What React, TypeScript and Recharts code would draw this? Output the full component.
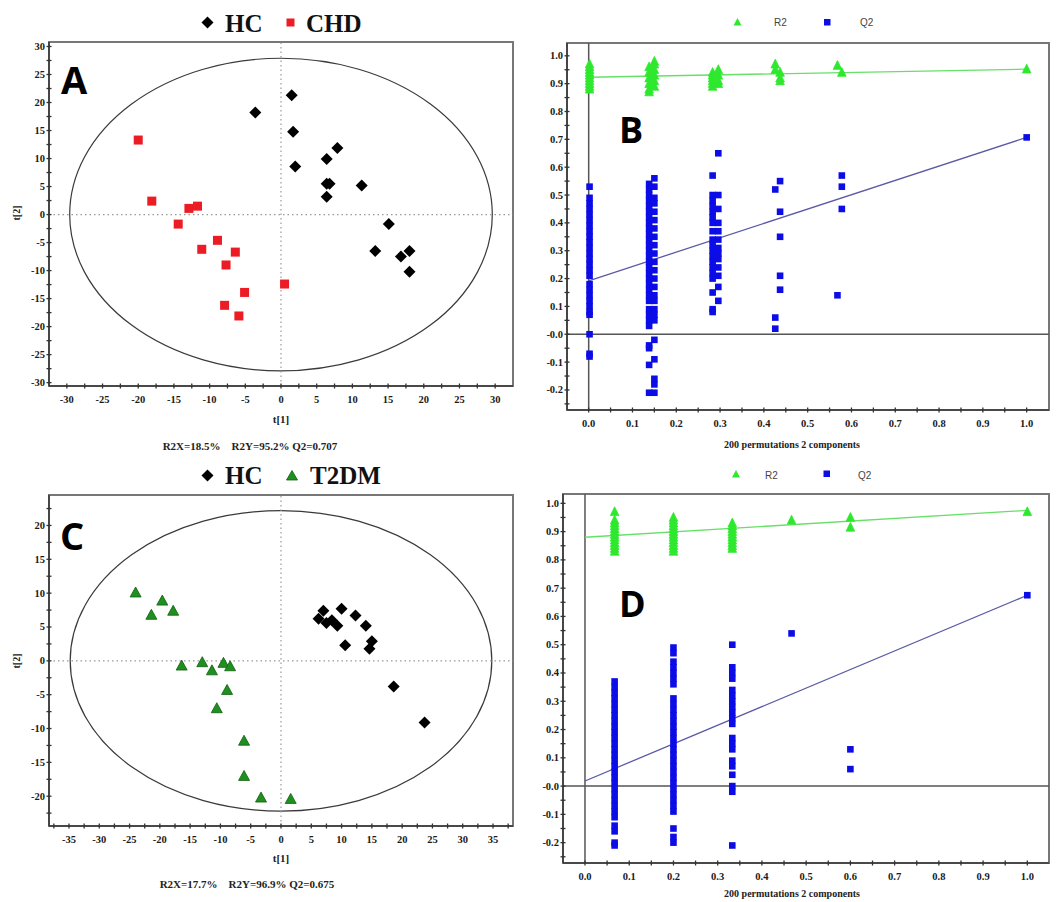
import React from 'react';
import { ScatterChart, Scatter, XAxis, YAxis, ReferenceLine, ReferenceArea } from 'recharts';

// ---------- Panel A: OPLS-DA scores, HC vs CHD ----------
const hcScoresA = [
  { x: -3.6, y: 18.2 }, { x: 1.5, y: 21.3 }, { x: 1.7, y: 14.8 }, { x: 2.0, y: 8.6 },
  { x: 6.4, y: 9.9 }, { x: 7.9, y: 11.9 }, { x: 6.4, y: 5.5 }, { x: 6.8, y: 5.5 },
  { x: 6.4, y: 3.2 }, { x: 11.3, y: 5.2 }, { x: 15.1, y: -1.7 }, { x: 13.2, y: -6.5 },
  { x: 16.8, y: -7.5 }, { x: 18.0, y: -6.5 }, { x: 18.0, y: -10.2 },
];
const chdScoresA = [
  { x: -20.0, y: 13.3 }, { x: -18.1, y: 2.4 }, { x: -12.9, y: 1.1 }, { x: -11.7, y: 1.5 },
  { x: -14.4, y: -1.7 }, { x: -8.9, y: -4.6 }, { x: -11.1, y: -6.2 }, { x: -6.4, y: -6.7 },
  { x: -7.7, y: -9.0 }, { x: 0.5, y: -12.4 }, { x: -5.1, y: -13.9 }, { x: -7.9, y: -16.2 },
  { x: -5.9, y: -18.1 },
];
const ellipseA = { rx: 29.6, ry: 27.9 };
const xMajorA = [-30, -25, -20, -15, -10, -5, 0, 5, 10, 15, 20, 25, 30];
const xMinorA = [-27.5, -22.5, -17.5, -12.5, -7.5, -2.5, 2.5, 7.5, 12.5, 17.5, 22.5, 27.5];
const yMajorA = [-30, -25, -20, -15, -10, -5, 0, 5, 10, 15, 20, 25, 30];
const yMinorA = [-27.5, -22.5, -17.5, -12.5, -7.5, -2.5, 2.5, 7.5, 12.5, 17.5, 22.5, 27.5];

// ---------- Panel C: OPLS-DA scores, HC vs T2DM ----------
const hcScoresC = [
  { x: 7.0, y: 7.4 }, { x: 10.0, y: 7.7 }, { x: 12.3, y: 6.7 }, { x: 6.2, y: 6.2 },
  { x: 7.5, y: 5.6 }, { x: 8.4, y: 6.0 }, { x: 9.3, y: 5.2 }, { x: 14.0, y: 5.2 },
  { x: 10.6, y: 2.3 }, { x: 15.0, y: 2.9 }, { x: 14.6, y: 1.8 }, { x: 18.6, y: -3.8 },
  { x: 23.7, y: -9.1 },
];
const t2dmScoresC = [
  { x: -24.0, y: 10.1 }, { x: -19.6, y: 8.9 }, { x: -21.4, y: 6.8 }, { x: -17.8, y: 7.4 },
  { x: -16.4, y: -0.7 }, { x: -13.0, y: -0.2 }, { x: -11.4, y: -1.4 }, { x: -9.5, y: -0.3 },
  { x: -8.4, y: -0.8 }, { x: -8.9, y: -4.3 }, { x: -10.6, y: -7.0 }, { x: -6.1, y: -11.8 },
  { x: -6.1, y: -17.0 }, { x: -3.3, y: -20.2 }, { x: 1.6, y: -20.4 },
];
const ellipseC = { rx: 34.8, ry: 22.2 };
const xMajorC = [-35, -30, -25, -20, -15, -10, -5, 0, 5, 10, 15, 20, 25, 30, 35];
const xMinorC = [-37.5, -32.5, -27.5, -22.5, -17.5, -12.5, -7.5, -2.5, 2.5, 7.5, 12.5, 17.5, 22.5, 27.5, 32.5, 37.5];
const yMajorC = [-20, -15, -10, -5, 0, 5, 10, 15, 20];
const yMinorC = [-22.5, -17.5, -12.5, -7.5, -2.5, 2.5, 7.5, 12.5, 17.5, 22.5];

// ---------- Panel B: permutation test (200 permutations), HC vs CHD ----------
const permR2B = [
  { x: 0.002, ys: [0.97, 0.96, 0.95, 0.94, 0.93, 0.92, 0.91, 0.9, 0.89, 0.88] },
  { x: 0.138, ys: [0.96, 0.94, 0.92, 0.9, 0.88, 0.87] },
  { x: 0.15, ys: [0.98, 0.97, 0.95, 0.93, 0.91, 0.89] },
  { x: 0.283, ys: [0.94, 0.93, 0.92, 0.91, 0.9, 0.89] },
  { x: 0.296, ys: [0.95, 0.93, 0.91, 0.9] },
  { x: 0.426, ys: [0.97, 0.95] },
  { x: 0.437, ys: [0.94, 0.92, 0.91] },
  { x: 0.568, ys: [0.965] },
  { x: 0.578, ys: [0.94] },
  { x: 1.0, ys: [0.952] },
];
const permQ2B = [
  { x: 0.002, ys: [0.53, 0.49, 0.47, 0.45, 0.43, 0.41, 0.39, 0.37, 0.35, 0.33, 0.31, 0.29, 0.27, 0.25, 0.23, 0.21, 0.18, 0.16, 0.14, 0.12, 0.1, 0.08, 0.07, 0.0, -0.07, -0.08] },
  { x: 0.138, ys: [0.54, 0.52, 0.5, 0.48, 0.46, 0.44, 0.42, 0.4, 0.38, 0.36, 0.34, 0.32, 0.3, 0.28, 0.26, 0.24, 0.22, 0.2, 0.18, 0.16, 0.14, 0.12, 0.09, 0.07, 0.05, 0.03, -0.04, -0.05, -0.11, -0.21] },
  { x: 0.15, ys: [0.56, 0.53, 0.49, 0.47, 0.44, 0.41, 0.38, 0.35, 0.32, 0.29, 0.26, 0.23, 0.2, 0.17, 0.14, 0.12, 0.09, 0.07, 0.05, -0.02, -0.09, -0.16, -0.18, -0.21] },
  { x: 0.283, ys: [0.57, 0.5, 0.48, 0.46, 0.44, 0.42, 0.4, 0.37, 0.34, 0.32, 0.3, 0.28, 0.26, 0.24, 0.22, 0.2, 0.15, 0.09, 0.08] },
  { x: 0.296, ys: [0.65, 0.5, 0.45, 0.4, 0.37, 0.34, 0.31, 0.29, 0.27, 0.24, 0.21, 0.17, 0.12] },
  { x: 0.426, ys: [0.52, 0.06, 0.02] },
  { x: 0.437, ys: [0.55, 0.44, 0.35, 0.21, 0.16] },
  { x: 0.568, ys: [0.14] },
  { x: 0.578, ys: [0.57, 0.53, 0.45] },
  { x: 1.0, ys: [0.707] },
];
const r2FitB = [{ x: 0, y: 0.923 }, { x: 1, y: 0.952 }];
const q2FitB = [{ x: 0, y: 0.192 }, { x: 1, y: 0.707 }];

// ---------- Panel D: permutation test (200 permutations), HC vs T2DM ----------
const permR2D = [
  { x: 0.067, ys: [0.97, 0.94, 0.93, 0.92, 0.91, 0.9, 0.89, 0.88, 0.87, 0.86, 0.85, 0.84, 0.83] },
  { x: 0.2, ys: [0.95, 0.94, 0.93, 0.92, 0.91, 0.9, 0.89, 0.88, 0.87, 0.86, 0.85, 0.84, 0.83] },
  { x: 0.333, ys: [0.93, 0.92, 0.91, 0.9, 0.89, 0.88, 0.87, 0.86, 0.85, 0.84] },
  { x: 0.467, ys: [0.94] },
  { x: 0.6, ys: [0.95, 0.915] },
  { x: 1.0, ys: [0.97] },
];
const permQ2D = [
  { x: 0.067, ys: [0.37, 0.35, 0.33, 0.31, 0.29, 0.27, 0.25, 0.23, 0.21, 0.19, 0.17, 0.15, 0.13, 0.11, 0.09, 0.07, 0.05, 0.03, 0.01, -0.01, -0.03, -0.05, -0.07, -0.09, -0.11, -0.14, -0.16, -0.2, -0.21] },
  { x: 0.2, ys: [0.49, 0.47, 0.44, 0.42, 0.4, 0.38, 0.36, 0.31, 0.29, 0.27, 0.25, 0.23, 0.21, 0.19, 0.17, 0.15, 0.13, 0.11, 0.09, 0.07, 0.05, 0.03, 0.01, -0.01, -0.03, -0.05, -0.07, -0.09, -0.15, -0.18, -0.2] },
  { x: 0.333, ys: [0.5, 0.42, 0.4, 0.38, 0.34, 0.32, 0.3, 0.28, 0.26, 0.24, 0.22, 0.17, 0.15, 0.13, 0.09, 0.07, 0.04, 0.0, -0.02, -0.21] },
  { x: 0.467, ys: [0.54] },
  { x: 0.6, ys: [0.13, 0.06] },
  { x: 1.0, ys: [0.675] },
];
const r2FitD = [{ x: 0, y: 0.88 }, { x: 1, y: 0.975 }];
const q2FitD = [{ x: 0, y: 0.018 }, { x: 1, y: 0.675 }];

// shared permutation-plot ticks
const permXMajor = [0, 0.1, 0.2, 0.3, 0.4, 0.5, 0.6, 0.7, 0.8, 0.9, 1.0];
const permXMinor = [0.05, 0.15, 0.25, 0.35, 0.45, 0.55, 0.65, 0.75, 0.85, 0.95];
const permYMajor = [-0.2, -0.1, 0, 0.1, 0.2, 0.3, 0.4, 0.5, 0.6, 0.7, 0.8, 0.9, 1.0];
const permYMinor = [-0.25, -0.15, -0.05, 0.05, 0.15, 0.25, 0.35, 0.45, 0.55, 0.65, 0.75, 0.85, 0.95];

type Group = { x: number; ys: number[] };
const toPoints = (groups: Group[]) => groups.flatMap((g) => g.ys.map((y) => ({ x: g.x, y })));

const serif = "'Liberation Serif','Times New Roman',serif";
const sans = "'Liberation Sans',Arial,sans-serif";
const tickText: React.CSSProperties = { fontFamily: serif, fontWeight: 700, fontSize: 10.5, fill: '#1a1a1a' };
const axisStyle = { stroke: '#3a3a3a', strokeWidth: 1.6 };

const sorted = (a: number[], b: number[]) => [...a, ...b].sort((p, q) => p - q);
const intLabel = (v: number) => String(v);
const decLabel = (v: number) => v.toFixed(1);
const permYLabel = (v: number) => (v === 0 ? '-0.0' : v.toFixed(1));

const makeXTick = (majors: number[], fmt: (v: number) => string) => (p: any) => {
  const { x, y, payload } = p;
  const v = payload.value;
  const major = majors.includes(v);
  return (
    <g>
      <line x1={x} x2={x} y1={y - 2.5} y2={y + 2.5} stroke="#333" strokeWidth={1.3} />
      {major && (
        <text x={x} y={y + 17} textAnchor="middle" style={tickText}>
          {fmt(v)}
        </text>
      )}
    </g>
  );
};

const makeYTick = (majors: number[], fmt: (v: number) => string) => (p: any) => {
  const { x, y, payload } = p;
  const v = payload.value;
  const major = majors.includes(v);
  return (
    <g>
      <line x1={x - 2.5} x2={x + 2.5} y1={y} y2={y} stroke="#333" strokeWidth={1.3} />
      {major && (
        <text x={x - 4} y={y + 3.5} textAnchor="end" style={tickText}>
          {fmt(v)}
        </text>
      )}
    </g>
  );
};

// marker shapes
const diamond = (h: number, color: string) => (p: any) => (
  <polygon
    points={`${p.cx},${p.cy - h} ${p.cx + h},${p.cy} ${p.cx},${p.cy + h} ${p.cx - h},${p.cy}`}
    fill={color}
  />
);
const square = (h: number, color: string) => (p: any) => (
  <rect x={p.cx - h} y={p.cy - h} width={2 * h} height={2 * h} fill={color} />
);
const triangle = (w: number, up: number, down: number, color: string, edge: string) => (p: any) => (
  <polygon
    points={`${p.cx},${p.cy - up} ${p.cx + w},${p.cy + down} ${p.cx - w},${p.cy + down}`}
    fill={color}
    stroke={edge}
    strokeWidth={0.8}
  />
);

const ellipseShape = (p: any) => (
  <ellipse
    cx={p.x + p.width / 2}
    cy={p.y + p.height / 2}
    rx={Math.abs(p.width) / 2}
    ry={Math.abs(p.height) / 2}
    fill="none"
    stroke="#3a3a3a"
    strokeWidth={1.2}
  />
);

type Box = { left: number; top: number; width: number; height: number };
type Margin = { top: number; right: number; bottom: number; left: number };

function ScorePanel(props: {
  box: Box;
  margin: Margin;
  xDomain: [number, number];
  yDomain: [number, number];
  xMajor: number[];
  xMinor: number[];
  yMajor: number[];
  yMinor: number[];
  ellipse: { rx: number; ry: number };
  series: { name: string; data: { x: number; y: number }[]; shape: (p: any) => React.ReactElement }[];
}) {
  const { box, margin, xDomain, yDomain, xMajor, xMinor, yMajor, yMinor, ellipse, series } = props;
  return (
    <div style={{ position: 'absolute', left: box.left, top: box.top }}>
      <ScatterChart width={box.width} height={box.height} margin={margin}>
        <XAxis
          type="number"
          dataKey="x"
          domain={xDomain}
          allowDataOverflow
          ticks={sorted(xMajor, xMinor)}
          interval={0}
          tickSize={0}
          tickMargin={0}
          tickLine={false}
          tick={makeXTick(xMajor, intLabel)}
          axisLine={axisStyle}
          height={30}
        />
        <YAxis
          type="number"
          dataKey="y"
          domain={yDomain}
          allowDataOverflow
          ticks={sorted(yMajor, yMinor)}
          interval={0}
          tickSize={0}
          tickMargin={0}
          tickLine={false}
          tick={makeYTick(yMajor, intLabel)}
          axisLine={axisStyle}
          width={40}
        />
        <ReferenceArea
          x1={xDomain[0]}
          x2={xDomain[1]}
          y1={yDomain[0]}
          y2={yDomain[1]}
          fill="none"
          fillOpacity={0}
          stroke="#777"
          strokeWidth={2}
          ifOverflow="visible"
        />
        <ReferenceLine x={0} stroke="#999" strokeWidth={1.2} strokeDasharray="1.5 3" />
        <ReferenceLine y={0} stroke="#999" strokeWidth={1.2} strokeDasharray="1.5 3" />
        <ReferenceArea
          x1={-ellipse.rx}
          x2={ellipse.rx}
          y1={-ellipse.ry}
          y2={ellipse.ry}
          shape={ellipseShape}
          ifOverflow="visible"
        />
        {series.map((s) => (
          <Scatter key={s.name} name={s.name} data={s.data} shape={s.shape} isAnimationActive={false} />
        ))}
      </ScatterChart>
    </div>
  );
}

function PermPanel(props: {
  box: Box;
  margin: Margin;
  xDomain: [number, number];
  yDomain: [number, number];
  r2: Group[];
  q2: Group[];
  r2Fit: { x: number; y: number }[];
  q2Fit: { x: number; y: number }[];
}) {
  const { box, margin, xDomain, yDomain, r2, q2, r2Fit, q2Fit } = props;
  return (
    <div style={{ position: 'absolute', left: box.left, top: box.top }}>
      <ScatterChart width={box.width} height={box.height} margin={margin}>
        <XAxis
          type="number"
          dataKey="x"
          domain={xDomain}
          allowDataOverflow
          ticks={sorted(permXMajor, permXMinor)}
          interval={0}
          tickSize={0}
          tickMargin={0}
          tickLine={false}
          tick={makeXTick(permXMajor, decLabel)}
          axisLine={axisStyle}
          height={30}
        />
        <YAxis
          type="number"
          dataKey="y"
          domain={yDomain}
          allowDataOverflow
          ticks={sorted(permYMajor, permYMinor.filter((v) => v > yDomain[0]))}
          interval={0}
          tickSize={0}
          tickMargin={0}
          tickLine={false}
          tick={makeYTick(permYMajor, permYLabel)}
          axisLine={axisStyle}
          width={30}
        />
        <ReferenceArea
          x1={xDomain[0]}
          x2={xDomain[1]}
          y1={yDomain[0]}
          y2={yDomain[1]}
          fill="none"
          fillOpacity={0}
          stroke="#777"
          strokeWidth={2}
          ifOverflow="visible"
        />
        <ReferenceLine x={0} stroke="#555" strokeWidth={1.5} />
        <ReferenceLine y={0} stroke="#555" strokeWidth={1.5} />
        <Scatter name="R2" data={toPoints(r2)} shape={triangle(4.3, 5, 3.8, '#2ee82e', '#2ee82e')} isAnimationActive={false} />
        <Scatter name="Q2" data={toPoints(q2)} shape={square(3.3, '#0c0ce6')} isAnimationActive={false} />
        <ReferenceLine segment={r2Fit} stroke="#66e066" strokeWidth={1.3} />
        <ReferenceLine segment={q2Fit} stroke="#5a5aa6" strokeWidth={1.3} />
      </ScatterChart>
    </div>
  );
}

const legendBig: React.CSSProperties = { fontFamily: serif, fontWeight: 700, fontSize: 25, fill: '#111' };
const legendSmall: React.CSSProperties = { fontFamily: sans, fontSize: 10, fill: '#444' };
const panelLetter: React.CSSProperties = { fontFamily: "'Open Sans','Liberation Sans',sans-serif", fontWeight: 700, fill: '#000' };
const axisTitle: React.CSSProperties = { fontFamily: serif, fontWeight: 700, fontSize: 11, fill: '#222', whiteSpace: 'pre' };
const permTitle: React.CSSProperties = { fontFamily: serif, fontWeight: 700, fontSize: 10, fill: '#222' };

export default function App() {
  return (
    <div style={{ position: 'absolute', left: 0, top: 0, width: 1061, height: 902, background: '#fff', overflow: 'hidden' }}>
      <ScorePanel
        box={{ left: 0, top: 0, width: 530, height: 460 }}
        margin={{ top: 42, right: 17, bottom: 44, left: 9 }}
        xDomain={[-32.5, 32.5]}
        yDomain={[-30.6, 30.8]}
        xMajor={xMajorA}
        xMinor={xMinorA}
        yMajor={yMajorA}
        yMinor={yMinorA}
        ellipse={ellipseA}
        series={[
          { name: 'HC', data: hcScoresA, shape: diamond(6, '#000') },
          { name: 'CHD', data: chdScoresA, shape: square(4.5, '#ec1c24') },
        ]}
      />
      <PermPanel
        box={{ left: 530, top: 0, width: 531, height: 460 }}
        margin={{ top: 43, right: 12, bottom: 20, left: 7 }}
        xDomain={[-0.0495, 1.051]}
        yDomain={[-0.272, 1.046]}
        r2={permR2B}
        q2={permQ2B}
        r2Fit={r2FitB}
        q2Fit={q2FitB}
      />
      <ScorePanel
        box={{ left: 0, top: 460, width: 530, height: 442 }}
        margin={{ top: 35, right: 17, bottom: 46, left: 9 }}
        xDomain={[-38.3, 38.3]}
        yDomain={[-24.4, 24.5]}
        xMajor={xMajorC}
        xMinor={xMinorC}
        yMajor={yMajorC}
        yMinor={yMinorC}
        ellipse={ellipseC}
        series={[
          { name: 'HC', data: hcScoresC, shape: diamond(6, '#000') },
          { name: 'T2DM', data: t2dmScoresC, shape: triangle(5.5, 5.5, 4.5, '#1f8f1f', '#0f5f0f') },
        ]}
      />
      <PermPanel
        box={{ left: 530, top: 460, width: 531, height: 442 }}
        margin={{ top: 34, right: 12, bottom: 9, left: 3 }}
        xDomain={[-0.0497, 1.049]}
        yDomain={[-0.272, 1.033]}
        r2={permR2D}
        q2={permQ2D}
        r2Fit={r2FitD}
        q2Fit={q2FitD}
      />

      {/* legends, panel letters and axis titles */}
      <svg width={1061} height={902} style={{ position: 'absolute', left: 0, top: 0, pointerEvents: 'none' }}>
        {/* A */}
        <polygon points="207.5,16.5 213.5,22.5 207.5,28.5 201.5,22.5" fill="#000" />
        <text x={225} y={31.5} style={legendBig}>HC</text>
        <rect x={286.5} y={18.5} width={8} height={8} fill="#ec1c24" />
        <text x={306} y={31.5} style={legendBig}>CHD</text>
        <text x={61} y={94} style={{ ...panelLetter, fontSize: 38 }}>A</text>
        <text transform="translate(20,213) rotate(-90)" textAnchor="middle" style={{ ...axisTitle, fontSize: 10 }}>t[2]</text>
        <text x={281} y={423} textAnchor="middle" style={axisTitle}>t[1]</text>
        <text x={250} y={450} textAnchor="middle" style={axisTitle}>{'R2X=18.5%    R2Y=95.2% Q2=0.707'}</text>

        {/* B */}
        <polygon points="737.5,18 741.5,25.5 733.5,25.5" fill="#2ee82e" />
        <text x={774} y={26} style={legendSmall}>R2</text>
        <rect x={824} y={19} width={6.5} height={6.5} fill="#0c0ce6" />
        <text x={860} y={26} style={legendSmall}>Q2</text>
        <text x={619} y={143} style={{ ...panelLetter, fontSize: 36 }}>B</text>
        <text x={792} y={448} textAnchor="middle" style={permTitle}>200 permutations 2 components</text>

        {/* C */}
        <polygon points="207.5,469.5 213.5,475.5 207.5,481.5 201.5,475.5" fill="#000" />
        <text x={225} y={484} style={legendBig}>HC</text>
        <polygon points="292,470.5 297.5,480 286.5,480" fill="#1f8f1f" stroke="#0f5f0f" strokeWidth={0.8} />
        <text x={310} y={484} style={legendBig}>T2DM</text>
        <text x={60} y={550} style={{ ...panelLetter, fontSize: 38 }}>C</text>
        <text transform="translate(20,661) rotate(-90)" textAnchor="middle" style={{ ...axisTitle, fontSize: 10 }}>t[2]</text>
        <text x={281} y={862} textAnchor="middle" style={axisTitle}>t[1]</text>
        <text x={247} y={888} textAnchor="middle" style={axisTitle}>{'R2X=17.7%    R2Y=96.9% Q2=0.675'}</text>

        {/* D */}
        <polygon points="736,470 740,477.5 732,477.5" fill="#2ee82e" />
        <text x={765} y={479} style={legendSmall}>R2</text>
        <rect x={823.5} y={470.5} width={6.5} height={6.5} fill="#0c0ce6" />
        <text x={858} y={479} style={legendSmall}>Q2</text>
        <text x={619} y={617} style={{ ...panelLetter, fontSize: 36 }}>D</text>
        <text x={792} y={897} textAnchor="middle" style={permTitle}>200 permutations 2 components</text>
      </svg>
    </div>
  );
}
